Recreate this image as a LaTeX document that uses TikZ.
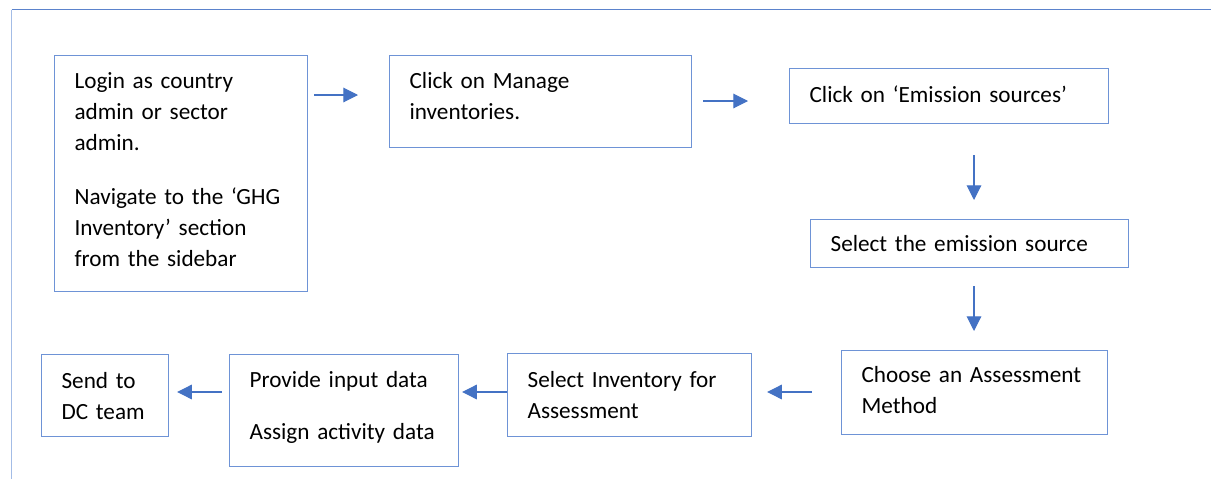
\documentclass[tikz,border=0pt]{standalone}
\usepackage{fontspec}
\setmainfont{Carlito}
\usetikzlibrary{arrows.meta}
\definecolor{boxc}{HTML}{6E93D6}
\definecolor{arrc}{HTML}{4472C4}
\definecolor{frametop}{HTML}{5B83CC}
\definecolor{frameleft}{HTML}{A3BCE6}
\newcommand{\oneline}[1]{\mbox{#1}}
\tikzset{
  box/.style={draw=boxc, line width=0.9pt, anchor=north west, inner xsep=15pt, inner ysep=0pt,
    align=left, font=\fontsize{17.4}{23.25}\selectfont},
  arr/.style={draw=arrc, line width=0.8pt, -{Triangle[length=11pt,width=11pt]}}
}
\begin{document}
\begin{tikzpicture}[x=0.75pt,y=-0.75pt]
\useasboundingbox (0,0) rectangle (1211,479);
% frame
\draw[frametop, line width=0.9pt] (11.5,9.5) -- (1211,9.5);
\draw[frameleft, line width=1.4pt] (11.5,9.5) -- (11.5,479);
% boxes
\node[box, minimum width=189.75pt, minimum height=177pt, text width=159.75pt] (b1) at (54,55)
  {\oneline{Login as country}\\ \oneline{admin or sector}\\ \oneline{admin.}\\[17pt] \oneline{Navigate to the ‘GHG}\\ \oneline{Inventory’ section}\\ \oneline{from the sidebar}\\[-17pt]\mbox{}};
\node[box, minimum width=226.5pt, minimum height=69pt, text width=196.5pt] (b2) at (389,55)
  {\oneline{Click on Manage}\\ \oneline{inventories.}\\[-15pt]\mbox{}};
\node[box, minimum width=239.25pt, minimum height=41.25pt, text width=209.25pt] (b3) at (789,68)
  {\oneline{Click on ‘Emission sources’}\\[-20pt]\mbox{}};
\node[box, minimum width=238.5pt, minimum height=36pt, text width=208.5pt] (b4) at (810,219)
  {\oneline{Select the emission source}};
\node[box, minimum width=199.5pt, minimum height=63pt, text width=169.5pt] (b5) at (841,350)
  {\oneline{Choose an Assessment}\\ \oneline{Method}\\[-20pt]\mbox{}};
\node[box, minimum width=183pt, minimum height=62.25pt, text width=153pt] (b6) at (507,353)
  {\oneline{Select Inventory for}\\ \oneline{Assessment}};
\node[box, minimum width=171.75pt, minimum height=84pt, text width=141.75pt] (b7) at (229,354)
  {\oneline{Provide input data}\\[16pt] \oneline{Assign activity data}\\[-16pt]\mbox{}};
\node[box, minimum width=95.25pt, minimum height=61.5pt, text width=65.25pt] (b8) at (41,354)
  {\oneline{Send to}\\ \oneline{DC team}};
% arrow rows
\coordinate (r1) at (0,95);
\coordinate (r2) at (0,101);
\coordinate (c1) at (974,0);
\coordinate (r3) at (0,392);
% connectors
\draw[arr, shorten <=4.5pt, shorten >=23.25pt] (b1.east |- r1) -- (b2.west |- r1);
\draw[arr, shorten <=8.25pt, shorten >=30.75pt] (b2.east |- r2) -- (b3.west |- r2);
\draw[arr, shorten <=23.25pt, shorten >=14.25pt] (b3.south -| c1) -- (b4.north -| c1);
\draw[arr, shorten <=13.5pt, shorten >=14.25pt] (b4.south -| c1) -- (b5.north -| c1);
\draw[arr, shorten <=21.75pt, shorten >=11.25pt] (b5.west |- r3) -- (b6.east |- r3);
\draw[arr, shorten >=2.25pt] (b6.west |- r3) -- (b7.east |- r3);
\draw[arr, shorten <=5.25pt, shorten >=6pt] (b7.west |- r3) -- (b8.east |- r3);
\end{tikzpicture}
\end{document}
